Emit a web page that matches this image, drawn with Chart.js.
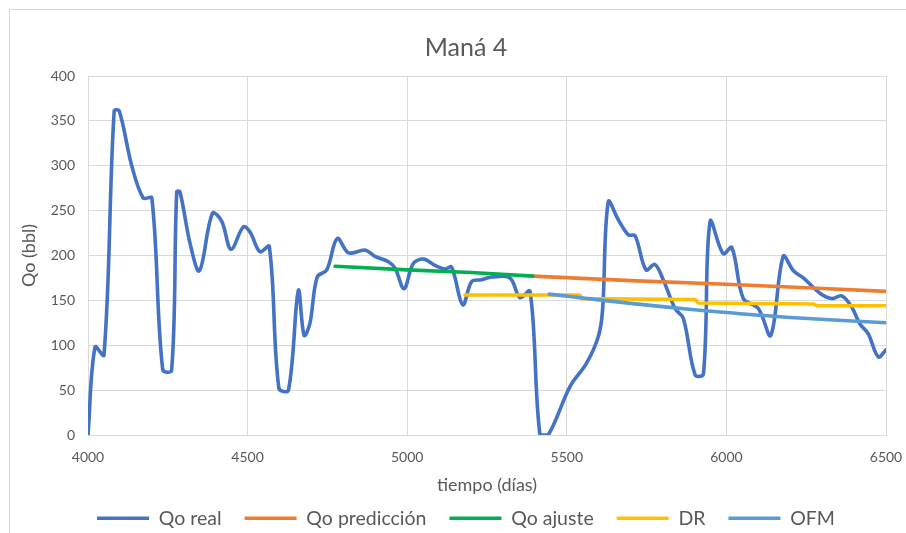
<!DOCTYPE html>
<html><head><meta charset="utf-8">
<script src="https://cdn.jsdelivr.net/npm/chart.js@4/dist/chart.umd.min.js"></script>
<style>
html,body{margin:0;padding:0;background:#fff;overflow:hidden;}
#wrap{width:906px;height:533px;position:relative;overflow:hidden;}
#frame{position:absolute;left:9px;top:9px;width:1000px;height:1000px;border-left:1px solid #d6d6d6;border-top:1px solid #d6d6d6;pointer-events:none;}
canvas{display:block;position:absolute;left:0;top:0;}
</style></head><body>
<div id="wrap"><canvas id="c" width="906" height="533"></canvas><div id="frame"></div></div>
<script>
const title = "Maná 4";
const xTitle = "tiempo (días)";
const yTitle = "Qo (bbl)";
const seriesNames = ["Qo real","Qo predicción","Qo ajuste","DR","OFM"];

const realX = [4000,4022,4050,4082,4098,4137,4173,4200,4234,4262,4278,4288,4320,4349,4390,4419,4448,4487,4508,4539,4568,4598,4628,4659,4677,4695,4718,4748,4781,4816,4868,4899,4941,4962,4990,5019,5051,5087,5118,5139,5174,5202,5233,5265,5322,5353,5385,5416,5442,5510,5562,5599,5612,5630,5661,5693,5714,5748,5776,5802,5839,5865,5902,5928,5949,5990,6017,6053,6100,6139,6178,6210,6241,6293,6330,6361,6392,6418,6444,6476,6500];
const realY = [0,98,89,361,361,300,264,264,73,72,271,271,213,183,247,238,207,232,226,204,210,52,50,161,111,124,176,184,219,203,206,199,193,186,163,191,196,189,185,187,145,171,173,176,175,153,160,0,0,54,80,110,139,260,240,223,222,184,190,173,141,130,67,68,238,202,209,152,141,111,199,183,175,158,152,155,143,124,113,87,95];

const predX = [5394,5700,6000,6250,6500];
const predY = [177,172,168,164,160];

const ajusteX = [4774,5000,5200,5394];
const ajusteY = [188,184,181,177];

const drX = [5181,5541,5546,5902,5912,6272,6283,6500];
const drY = [156,156,152,151,147,146,144,144];

const ofmX = [5445,5615,5800,5980,6200,6500];
const ofmY = [157,150,143,137,131,125];

const colors = ["#4472C4","#ED7D31","#00B050","#FFC000","#5B9BD5"];
const xTicks = [4000,4500,5000,5500,6000,6500];

function pts(xs, ys){ return xs.map((x,i)=>({x:x,y:ys[i]})); }

const FONT = "Lato, 'Open Sans', sans-serif";
const grey = "#595959";

const datasets = [
  {label:seriesNames[0], data:pts(realX,realY), borderColor:colors[0], backgroundColor:colors[0], tension:0.35, order:5},
  {label:seriesNames[1], data:pts(predX,predY), borderColor:colors[1], backgroundColor:colors[1], tension:0, order:4},
  {label:seriesNames[2], data:pts(ajusteX,ajusteY), borderColor:colors[2], backgroundColor:colors[2], tension:0, order:3},
  {label:seriesNames[3], data:pts(drX,drY), borderColor:colors[3], backgroundColor:colors[3], tension:0, order:2},
  {label:seriesNames[4], data:pts(ofmX,ofmY), borderColor:colors[4], backgroundColor:colors[4], tension:0.3, order:1}
].map(d=>Object.assign(d,{borderWidth:3.6, pointRadius:0, pointStyle:'line', fill:false, borderCapStyle:'round', borderJoinStyle:'round'}));

new Chart(document.getElementById('c'), {
  type:'line',
  data:{datasets:datasets},
  options:{
    responsive:false, animation:false,
    layout:{padding:{left:46,right:20,top:0,bottom:-5}},
    plugins:{
      title:{display:true, text:title, color:grey, font:{family:FONT,size:25,weight:'normal'}, padding:{top:33,bottom:13}},
      legend:{position:'bottom',
        labels:{color:grey, font:{family:FONT,size:19.5}, usePointStyle:true, pointStyle:'line', pointStyleWidth:52, padding:23,
          sort:(a,b)=>a.datasetIndex-b.datasetIndex}},
      tooltip:{enabled:false}
    },
    scales:{
      x:{type:'linear', min:4000, max:6500,
        afterBuildTicks:(s)=>{s.ticks = xTicks.map(v=>({value:v}));},
        afterFit:(s)=>{s.height = 50.5; s.paddingRight = 0; s.paddingLeft = 0;},
        ticks:{color:grey, font:{family:FONT,size:14}, padding:14, maxRotation:0, callback:(v)=>String(v)},
        grid:{color:"#d9d9d9", lineWidth:1, drawTicks:false},
        border:{color:"#d9d9d9"},
        title:{display:true, text:xTitle, color:grey, font:{family:FONT,size:18}, padding:{top:0,bottom:-10}}
      },
      y:{min:0, max:400,
        afterFit:(s)=>{s.width = 42;},
        ticks:{stepSize:50, color:grey, font:{family:FONT,size:14}, padding:13, callback:(v)=>String(v)},
        grid:{color:"#d9d9d9", lineWidth:1, drawTicks:false},
        border:{display:false},
        title:{display:true, text:yTitle, color:grey, font:{family:FONT,size:18}, padding:{top:-28,bottom:0}}
      }
    }
  }
});
</script>
</body></html>
